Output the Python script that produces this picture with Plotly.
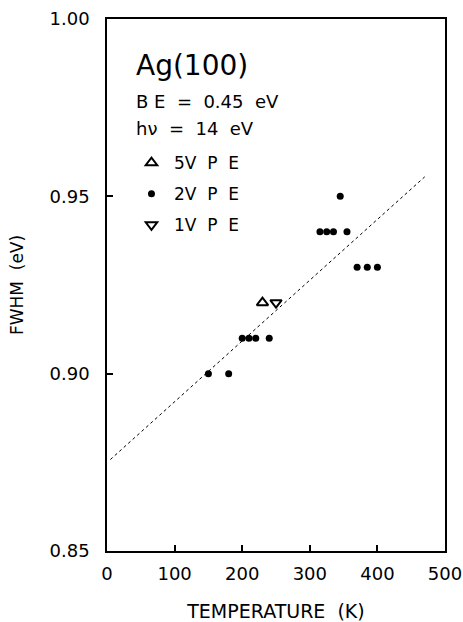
import plotly.graph_objects as go

# Data
t_5v = [230]
fwhm_5v = [0.92]

t_2v = [150, 180, 200, 210, 220, 240, 315, 325, 335, 345, 355, 370, 385, 400]
fwhm_2v = [0.90, 0.90, 0.91, 0.91, 0.91, 0.91, 0.94, 0.94, 0.94, 0.95, 0.94, 0.93, 0.93, 0.93]

t_1v = [250]
fwhm_1v = [0.92]

fit_t = [5, 470]
fit_fwhm = [0.8758, 0.9555]

FONT = "DejaVu Sans"

fig = go.Figure()
fig.add_trace(go.Scatter(x=fit_t, y=fit_fwhm, mode="lines",
                         line=dict(color="black", width=1, dash="dot"),
                         showlegend=False, hoverinfo="skip"))
fig.add_trace(go.Scatter(x=t_5v, y=fwhm_5v, mode="markers", name="5V  P  E",
                         legendgroup="a",
                         marker=dict(symbol="triangle-up-open", size=10, color="black",
                                     line=dict(width=2, color="black"))))
fig.add_trace(go.Scatter(x=t_2v, y=fwhm_2v, mode="markers", name="2V  P  E",
                         legendgroup="b",
                         marker=dict(symbol="circle", size=7, color="black")))
fig.add_trace(go.Scatter(x=t_1v, y=fwhm_1v, mode="markers", name="1V  P  E",
                         legendgroup="c",
                         marker=dict(symbol="triangle-down-open", size=10, color="black",
                                     line=dict(width=2, color="black"))))

fig.add_annotation(x=0.08, y=0.9135, xref="paper", yref="paper", xanchor="left", yanchor="middle",
                   text="Ag(100)", showarrow=False, font=dict(family=FONT, size=28, color="black"))
fig.add_annotation(x=0.08, y=0.844, xref="paper", yref="paper", xanchor="left", yanchor="middle",
                   text="B E  =  0.45  eV", showarrow=False, font=dict(family=FONT, size=18, color="black"))
fig.add_annotation(x=0.08, y=0.795, xref="paper", yref="paper", xanchor="left", yanchor="middle",
                   text="h\u03bd  =  14  eV", showarrow=False, font=dict(family=FONT, size=18, color="black"))

fig.update_layout(
    width=463, height=622,
    margin=dict(l=107, r=18, t=19, b=71),
    paper_bgcolor="white", plot_bgcolor="white",
    font=dict(family=FONT, size=18, color="black"),
    legend=dict(x=0.065, y=0.763, xanchor="left", yanchor="top",
                bgcolor="rgba(0,0,0,0)", tracegroupgap=6,
                font=dict(family=FONT, size=17), itemwidth=35),
    xaxis=dict(range=[0, 500], tickvals=[0, 100, 200, 300, 400, 500],
               ticks="inside", ticklen=6, tickwidth=1.5, tickcolor="black",
               showline=True, linecolor="black", linewidth=1.5, mirror=True,
               showgrid=False, zeroline=False, ticklabelstandoff=6, automargin=False,
               title=dict(text="TEMPERATURE  (K)", standoff=27, font=dict(size=19))),
    yaxis=dict(range=[0.85, 1.00], tickvals=[0.85, 0.90, 0.95, 1.00],
               tickformat=".2f", automargin=False,
               ticks="inside", ticklen=6, tickwidth=1.5, tickcolor="black",
               showline=True, linecolor="black", linewidth=1.5, mirror=True,
               showgrid=False, zeroline=False, ticklabelstandoff=12,
               title=dict(text="FWHM  (eV)", standoff=22, font=dict(size=17))),
)

fig.write_html("out.html")
